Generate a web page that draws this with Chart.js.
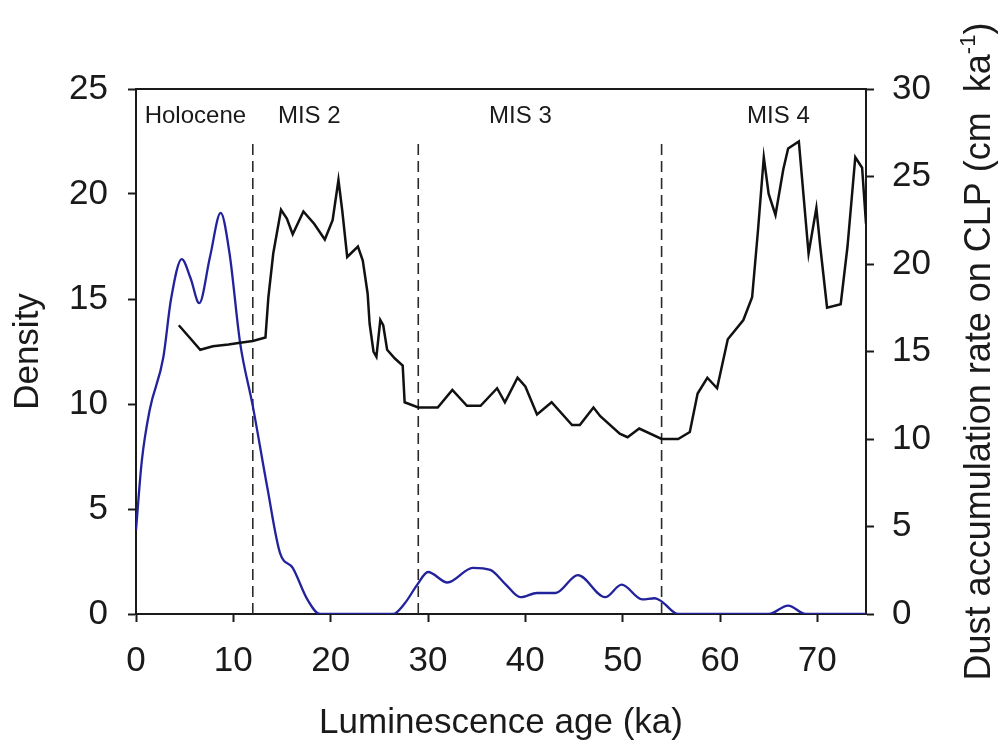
<!DOCTYPE html>
<html>
<head>
<meta charset="utf-8">
<script src="https://cdn.jsdelivr.net/npm/chart.js@4/dist/chart.umd.min.js"></script>
<style>
  html, body { margin: 0; padding: 0; background: #fff; }
  #wrap { width: 1000px; height: 745px; }
</style>
</head>
<body>
<div id="wrap"><canvas id="chart" width="1000" height="745"></canvas></div>
<script>
// luminescence age density (left axis)
const densityAge = [0, 0.6, 1.4, 2.8, 3.6, 4.7, 5.6, 6.5, 7.6, 8.7, 9.6, 10.7, 12, 13.5, 14.8, 16.1, 17.6, 18.9,
  26.4, 27.6, 28.9, 30, 32, 34.6, 36.4, 38, 39.5, 41.2, 43.1, 45.4, 48.2, 49.9, 52, 53.3, 54, 55.7,
  65, 67, 68.8, 75];
const density = [4, 7.3, 9.7, 12.2, 15, 16.9, 16.0, 14.8, 17.0, 19.1, 17.2, 12.9, 9.9, 6.0, 2.9, 2.2, 0.7, 0,
  0, 0.5, 1.4, 2.0, 1.5, 2.2, 2.1, 1.4, 0.8, 1.0, 1.0, 1.85, 0.8, 1.4, 0.7, 0.75, 0.6, 0,
  0, 0.4, 0, 0];

// dust accumulation rate on the CLP (right axis)
const dustAge = [4.4, 5.5, 6.6, 7.9, 9.5, 10.7, 12, 13.3, 13.6, 14.1, 14.9, 15.5, 16.1, 17.2, 18.3, 19.4,
  20.2, 20.8, 21.2, 21.7, 22.8, 23.3, 23.8, 24.0, 24.4, 24.7, 25.1, 25.4, 25.8, 26.6, 27.4, 27.6,
  29, 31.0, 32.5, 34.0, 35.4, 37.1, 37.9, 39.2, 40, 41.2, 42.7, 44.8, 45.6, 47.0, 47.7, 49.7,
  50.5, 51.7, 54.0, 55.7, 56.9, 57.7, 58.7, 59.7, 60.8, 62.4, 63.3, 63.9, 64.5, 65.0, 65.7,
  66.5, 67.0, 68.1, 69.1, 69.9, 70.3, 71.0, 72.4, 73.1, 73.9, 74.6, 75];
const dustRate = [16.5, 15.8, 15.1, 15.3, 15.4, 15.5, 15.6, 15.8, 18.1, 20.6, 23.1, 22.6, 21.7, 23.0, 22.3, 21.4,
  22.5, 24.8, 23.0, 20.4, 21.0, 20.2, 18.3, 16.6, 15.0, 14.7, 16.8, 16.5, 15.1, 14.6, 14.2, 12.1,
  11.8, 11.8, 12.8, 11.9, 11.9, 12.9, 12.1, 13.5, 13.0, 11.4, 12.1, 10.8, 10.8, 11.8, 11.3, 10.3,
  10.1, 10.6, 10.0, 10.0, 10.4, 12.6, 13.5, 12.9, 15.7, 16.8, 18.1, 21.9, 26.1, 24.0, 22.8,
  25.4, 26.6, 27.0, 20.6, 23.2, 21.0, 17.5, 17.7, 21.0, 26.1, 25.5, 22.3];

// marine isotope stage boundaries and names
const stageBounds = [12, 29, 54];
const stageNames = ['Holocene', 'MIS 2', 'MIS 3', 'MIS 4'];
const stageLabelAge = [6.1, 17.8, 39.5, 66.0];
const stageLabelLevel = 23.4;
const boundTop = 22.4;

const xTicks = [0, 10, 20, 30, 40, 50, 60, 70];

const FONT = '"Liberation Sans", Arial, sans-serif';
const INK = '#1a1a1a';

const toPoints = (xs, ys) => xs.map((x, i) => ({ x: x, y: ys[i] }));

const boundSets = stageBounds.map(b => ({
  data: [{ x: b, y: 0 }, { x: b, y: boundTop }],
  yAxisID: 'y',
  borderColor: '#2a2a2a',
  borderWidth: 1.6,
  borderDash: [11, 6],
  pointRadius: 0
}));

// top frame line, stage names and the right-hand axis title
const decorations = {
  id: 'decorations',
  afterDraw(chart) {
    const { ctx, chartArea, scales } = chart;
    ctx.save();
    ctx.strokeStyle = INK;
    ctx.lineWidth = 2;
    ctx.beginPath();
    ctx.moveTo(chartArea.left - 1, chartArea.top);
    ctx.lineTo(chartArea.right + 1, chartArea.top);
    ctx.stroke();

    ctx.fillStyle = INK;
    ctx.font = '24px ' + FONT;
    ctx.textAlign = 'center';
    ctx.textBaseline = 'alphabetic';
    stageNames.forEach((name, i) => {
      ctx.fillText(name, scales.x.getPixelForValue(stageLabelAge[i]), scales.y.getPixelForValue(stageLabelLevel));
    });

    // rotated title with superscript unit
    const main = 'Dust accumulation rate on CLP (cm  ka';
    const sup = '-1';
    const close = ')';
    ctx.font = '36px ' + FONT;
    const wMain = ctx.measureText(main).width;
    const wClose = ctx.measureText(close).width;
    ctx.font = '22px ' + FONT;
    const wSup = ctx.measureText(sup).width;
    const total = wMain + wSup + wClose;
    const cy = (chartArea.top + chartArea.bottom) / 2;
    ctx.translate(990, cy);
    ctx.rotate(-Math.PI / 2);
    ctx.textAlign = 'left';
    let x = -total / 2;
    ctx.font = '36px ' + FONT;
    ctx.fillText(main, x, 0);
    x += wMain;
    ctx.font = '22px ' + FONT;
    ctx.fillText(sup, x, -15);
    x += wSup;
    ctx.font = '36px ' + FONT;
    ctx.fillText(close, x, 0);
    ctx.restore();
  }
};

new Chart(document.getElementById('chart'), {
  type: 'line',
  data: {
    datasets: [
      {
        data: toPoints(dustAge, dustRate),
        yAxisID: 'y1',
        borderColor: '#111',
        borderWidth: 2.5,
        pointRadius: 0,
        tension: 0
      },
      {
        data: toPoints(densityAge, density),
        yAxisID: 'y',
        borderColor: '#22229c',
        borderWidth: 2.3,
        pointRadius: 0,
        cubicInterpolationMode: 'monotone'
      },
      ...boundSets
    ]
  },
  options: {
    responsive: false,
    animation: false,
    devicePixelRatio: 1,
    layout: { padding: { top: 89, left: 0, right: 0, bottom: 0 } },
    plugins: { legend: { display: false }, tooltip: { enabled: false } },
    scales: {
      x: {
        type: 'linear',
        min: 0,
        max: 75,
        afterBuildTicks: s => { s.ticks = xTicks.map(v => ({ value: v })); },
        afterFit: s => { s.height = 131; },
        border: { color: INK, width: 2 },
        grid: { drawOnChartArea: false, drawTicks: true, tickLength: 8, tickColor: INK, tickWidth: 2 },
        ticks: { color: INK, font: { family: FONT, size: 35 }, padding: 18, maxRotation: 0 },
        title: { display: true, text: 'Luminescence age (ka)', color: INK, font: { family: FONT, size: 35 }, padding: { top: 0, bottom: 1 } }
      },
      y: {
        position: 'left',
        min: 0,
        max: 25,
        ticks: { stepSize: 5, color: INK, font: { family: FONT, size: 35 }, padding: 20 },
        afterFit: s => { s.width = 136; },
        border: { color: INK, width: 2 },
        grid: { drawOnChartArea: false, drawTicks: true, tickLength: 8, tickColor: INK, tickWidth: 2 },
        title: { display: true, text: 'Density', color: INK, font: { family: FONT, size: 35 }, padding: { top: 7, bottom: 0 } }
      },
      y1: {
        position: 'right',
        min: 0,
        max: 30,
        ticks: { stepSize: 5, color: INK, font: { family: FONT, size: 35 }, padding: 18 },
        afterFit: s => { s.width = 134; },
        border: { color: INK, width: 2 },
        grid: { drawOnChartArea: false, drawTicks: true, tickLength: 8, tickColor: INK, tickWidth: 2 }
      }
    }
  },
  plugins: [decorations]
});
</script>
</body>
</html>
